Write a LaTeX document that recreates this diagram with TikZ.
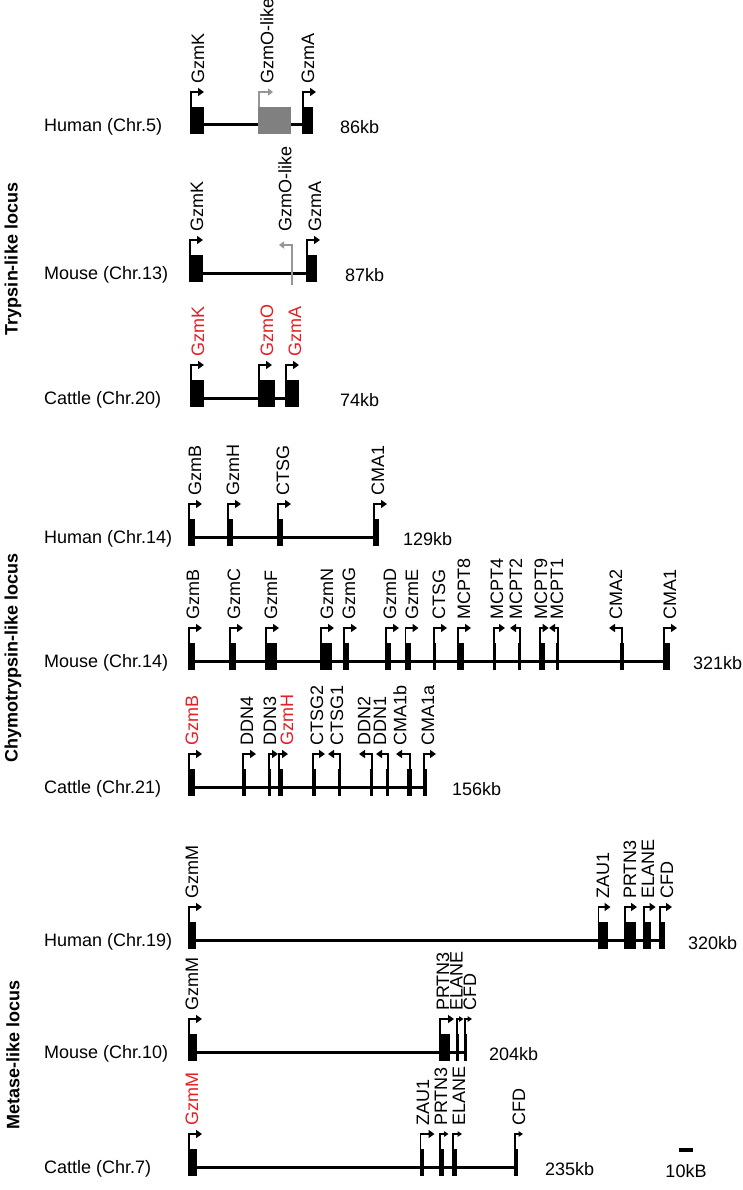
\documentclass[tikz,border=0pt]{standalone}
\usepackage{fontspec}
\setmainfont{Liberation Sans}
\usetikzlibrary{arrows.meta}
\definecolor{gred}{RGB}{228,30,36}
\definecolor{gbox}{RGB}{128,128,128}
\definecolor{garr}{RGB}{150,150,150}
\newcommand\generow[2]{%
  \foreach \a/\b/\s/\d/\L/\l/\t/\c/\st in {#2} {
    \fill ({\a},{#1-18}) rectangle ({\b},{#1+9});
    \draw[\st] ({\s},{#1-18}) |- ({\s+(\d)*(\L)},{#1-33});
    \node[lab,text=\c] (g#1\t) at ({\l},{#1-41}) {\t};
  }}
\begin{document}
\begin{tikzpicture}[x=1pt,y=-1pt,
  chrline/.style={line width=3pt},
  arr/.style={line width=1.8pt,-{Triangle[length=6pt,width=8pt]}},
  sarr/.style={line width=1.3pt,-{Triangle[length=4.5pt,width=5.5pt]}},
  garrow/.style={draw=garr,line width=1.6pt,-{Triangle[length=5pt,width=7pt]}},
  lab/.style={rotate=90,anchor=west,inner sep=0pt,font=\fontsize{18}{20}\selectfont},
  txt/.style={anchor=west,inner sep=0pt,font=\fontsize{18}{20}\selectfont},
  locus/.style={rotate=90,inner sep=0pt,font=\fontsize{18}{20}\selectfont\bfseries}]
\useasboundingbox (0,0) rectangle (742,1190);

% locus labels
\node[locus] (lt) at (13,259) {Trypsin-like locus};
\node[locus] (lc) at (13,658) {Chymotrypsin-like locus};
\node[locus] (lm) at (13,1055) {Metase-like locus};

% ---------- Human Chr.5
\node[txt] (s1) at (44,126.5) {Human (Chr.5)};
\node[txt] (k1) at (340,127) {86kb};
\draw[chrline] (190,125) -- (313,125);
\fill[gbox] (258,107) rectangle (291,134);
\draw[garrow] (259,107) |- (273,92);
\node[lab] (o1) at (267,84) {GzmO-like};
\generow{125}{190/204/191/1/13/198/GzmK/black/arr, 302/313/303/1/13/308/GzmA/black/arr}

% ---------- Mouse Chr.13
\node[txt] (s2) at (44,274.5) {Mouse (Chr.13)};
\node[txt] (k2) at (345,275) {87kb};
\draw[chrline] (189,273) -- (317,273);
\draw[garrow] (292,285) |- (279,245);
\node[lab] (o2) at (285,232) {GzmO-like};
\generow{273}{189/203/190/1/13/197/GzmK/black/arr, 306/317/307/1/13/315/GzmA/black/arr}

% ---------- Cattle Chr.20
\node[txt] (s3) at (44,399.5) {Cattle (Chr.20)};
\node[txt] (k3) at (340,400) {74kb};
\draw[chrline] (190,398) -- (299,398);
\generow{398}{190/204/191/1/13/198/GzmK/gred/arr, 258/275/259/1/13/267/GzmO/gred/arr, 285/299/286/1/13/295/GzmA/gred/arr}

% ---------- Human Chr.14
\node[txt] (s4) at (44,538.5) {Human (Chr.14)};
\node[txt] (k4) at (403,539) {129kb};
\draw[chrline] (188,537) -- (379,537);
\generow{537}{188/195/189/1/13/195/GzmB/black/arr, 227/233/228/1/13/233/GzmH/black/arr, 277/283/278/1/13/283/CTSG/black/arr, 373/379/374/1/13/378/CMA1/black/arr}

% ---------- Mouse Chr.14
\node[txt] (s5) at (44,662.5) {Mouse (Chr.14)};
\node[txt] (k5) at (693,663) {321kb};
\draw[chrline] (188,661) -- (670,661);
\generow{661}{188/195/189/1/13/193/GzmB/black/arr, 229/235.5/230/1/13/234/GzmC/black/arr, 265/277/266/1/13/271/GzmF/black/arr, 320/332/321/1/13/327/GzmN/black/arr, 343/349/344/1/13/349/GzmG/black/arr, 385/391/386/1/13/390/GzmD/black/arr, 404.5/411/405.5/1/13/412/GzmE/black/arr, 433/436/434/1/13/439/CTSG/black/arr, 457/464/458/1/13/464/MCPT8/black/arr, 493/496/494/1/11/497/MCPT4/black/arr, 518/521/520/-1/10/516/MCPT2/black/arr, 538.6/545/539.6/1/9/541/MCPT9/black/arr, 556/559/558/-1/9/557/MCPT1/black/arr, 620/624/622/-1/13/616/CMA2/black/arr, 663/670/664/1/13/670/CMA1/black/arr}

% ---------- Cattle Chr.21
\node[txt] (s6) at (44,788.5) {Cattle (Chr.21)};
\node[txt] (k6) at (452,789) {156kb};
\draw[chrline] (188,787) -- (427,787);
\generow{787}{188/195/189/1/13/192/GzmB/gred/arr, 242/246/243/1/13/247/DDN4/black/arr, 268/271/269/1/9/270/DDN3/black/arr, 278/283/279/1/9/287/GzmH/gred/arr, 312/316/313/1/12/317/CTSG2/black/arr, 338/341/340/-1/12/337/CTSG1/black/arr, 370/373/372/-1/13/364/DDN2/black/arr, 386/389/388/-1/12/380/DDN1/black/arr, 407/412/410/-1/14/400/CMA1b/black/arr, 423/427/424/1/12/428/CMA1a/black/arr}

% ---------- Human Chr.19
\node[txt] (s7) at (44,941.5) {Human (Chr.19)};
\node[txt] (k7) at (688,943) {320kb};
\draw[chrline] (188,940) -- (664.5,940);
\generow{940}{188/196/189/1/13/192/GzmM/black/arr, 597.5/608/598.5/1/12/603/ZAU1/black/arr, 624/636/625/1/12/630/PRTN3/black/arr, 642.6/651/643.6/1/12/648/ELANE/black/arr, 659/664.5/660/1/12/667/CFD/black/arr}

% ---------- Mouse Chr.10
\node[txt] (s8) at (44,1053.5) {Mouse (Chr.10)};
\node[txt] (k8) at (489,1054) {204kb};
\draw[chrline] (188,1052) -- (467,1052);
\generow{1052}{188/196.5/189/1/13/192/GzmM/black/arr, 438.8/450.3/440/1/14/443/PRTN3/black/arr, 456/459/457/1/6.5/456.5/ELANE/black/sarr, 464/467/465/1/7/470/CFD/black/sarr}

% ---------- Cattle Chr.7
\node[txt] (s9) at (44,1168.5) {Cattle (Chr.7)};
\node[txt] (k9) at (545,1169) {235kb};
\draw[chrline] (188,1167) -- (517.6,1167);
\generow{1167}{188/196.5/189/1/13/192/GzmM/gred/arr, 419.5/424/420.5/1/14/423/ZAU1/black/arr, 438.8/443.8/440/1/8.5/441/PRTN3/black/sarr, 452/457/453/1/9/459/ELANE/black/sarr, 513.8/517.6/515/1/8/519/CFD/black/sarr}

% scale bar
\fill (679,1148) rectangle (693,1152);
\node[font=\fontsize{18}{20}\selectfont,inner sep=0pt] (sb) at (686,1171) {10kB};
\end{tikzpicture}
\end{document}
